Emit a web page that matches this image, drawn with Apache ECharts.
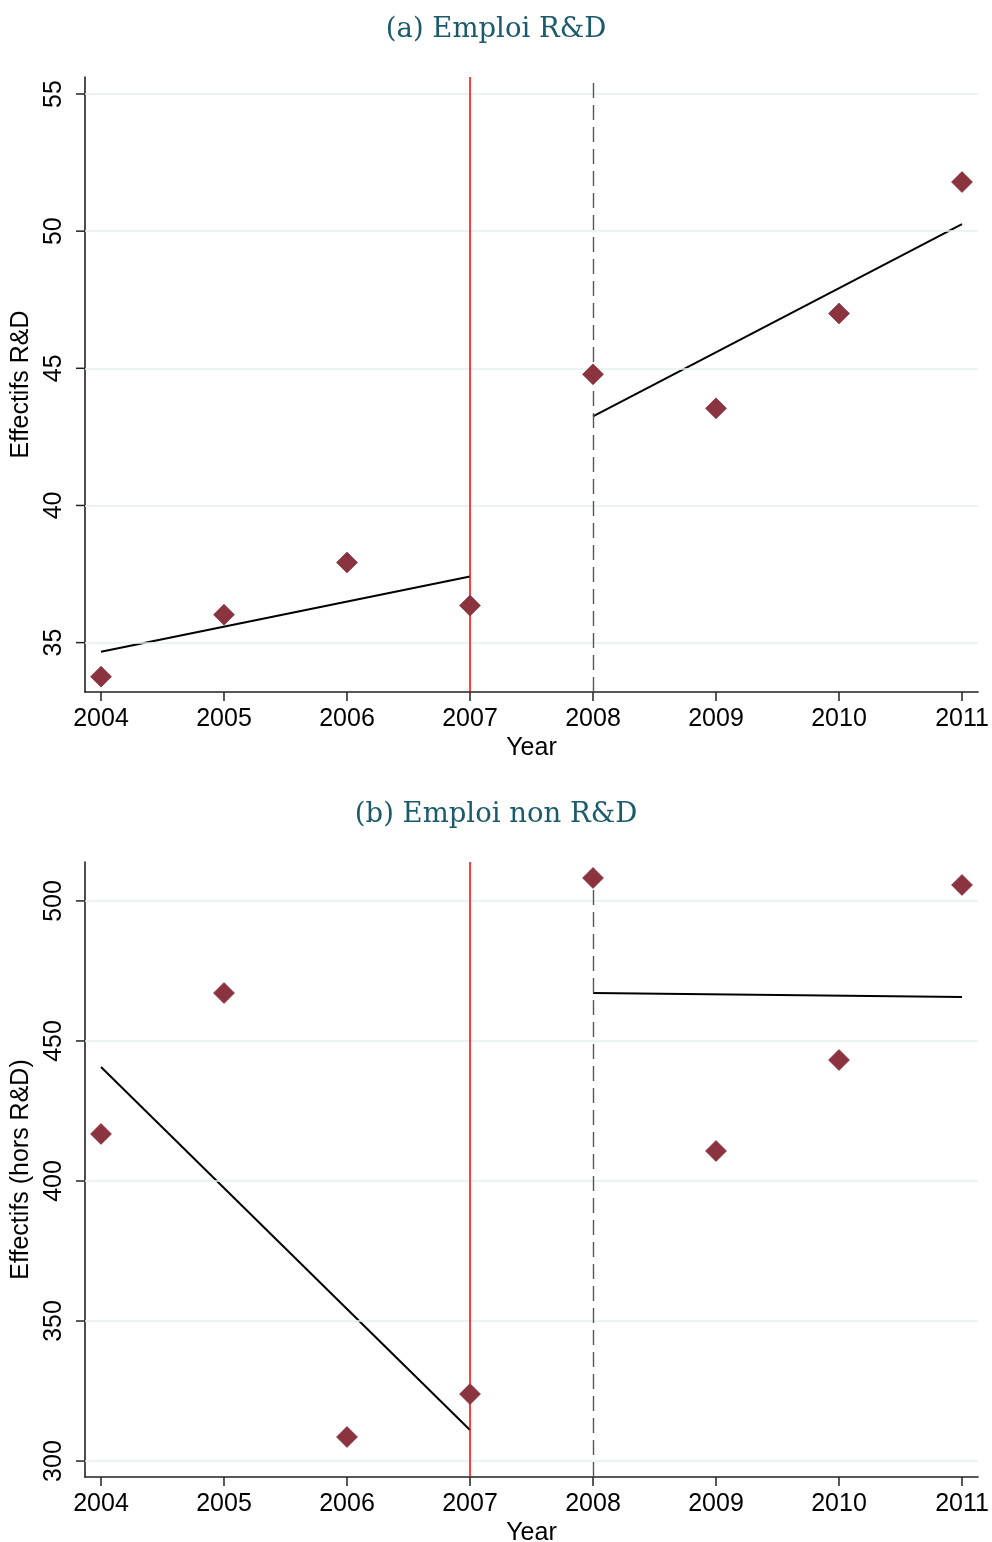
<!DOCTYPE html>
<html>
<head>
<meta charset="utf-8">
<script src="https://cdn.jsdelivr.net/npm/echarts@6/dist/echarts.min.js"></script>
<style>
html,body{margin:0;padding:0;background:#fff;}
#main{width:992px;height:1542px;}
</style>
</head>
<body>
<div id="main"></div>
<script>
// ---- data ----
var years = [2004, 2005, 2006, 2007, 2008, 2009, 2010, 2011];
var xTicks = [2004, 2005, 2006, 2007, 2008, 2009, 2010, 2011];

// (a) Emploi R&D
var rdValues = [33.76, 36.02, 37.92, 36.35, 44.78, 43.54, 47.0, 51.79];
var rdFitPre = [[2004, 34.67], [2007, 37.41]];
var rdFitPost = [[2008, 43.25], [2011, 50.26]];
var rdTicks = [35, 40, 45, 50, 55];

// (b) Emploi non R&D
var nrdValues = [416.8, 467.1, 308.6, 323.9, 508.2, 410.7, 443.2, 505.7];
var nrdFitPre = [[2004, 440.7], [2007, 311.1]];
var nrdFitPost = [[2008, 467.1], [2011, 465.7]];
var nrdTicks = [300, 350, 400, 450, 500];

var titles = ['(a) Emploi R&D', '(b) Emploi non R&D'];
var yNames = ['Effectifs R&D', 'Effectifs (hors R&D)'];
var xName = 'Year';
var reformYear = 2007;
var postYear = 2008;

// ---- layout ----
var GRID_W = 893, GRID_H = 615, TICK_PX = 9;
var X_MIN = 2003.87, X_MAX = 2011.13;
var Y_RANGES = [[33.2, 55.62], [294.3, 513.9]];

var chart = echarts.init(document.getElementById('main'), null, {renderer: 'canvas'});
var sans = 'Liberation Sans, Arial, sans-serif';
var serif = 'DejaVu Serif, serif';
var markerColor = '#8c3340';
var axisColor = '#222';
var FS = 25;

function pts(vals) { return years.map(function (y, i) { return [y, vals[i]]; }); }

function xAxisCfg(gi) {
  return {
    type: 'value', gridIndex: gi, min: X_MIN, max: X_MAX,
    name: xName, nameLocation: 'middle', nameGap: 44,
    nameTextStyle: {fontFamily: sans, fontSize: FS, color: '#000'},
    axisLine: {show: true, lineStyle: {color: axisColor, width: 1.6}},
    axisTick: {show: false},
    axisLabel: {customValues: xTicks, fontFamily: sans, fontSize: FS, color: '#000', margin: 15,
      formatter: function (v) { return String(v); }},
    splitLine: {show: false}
  };
}
function yAxisCfg(gi, ticks, name) {
  return {
    type: 'value', gridIndex: gi, min: Y_RANGES[gi][0], max: Y_RANGES[gi][1],
    name: name, nameLocation: 'middle', nameGap: 40,
    nameTextStyle: {fontFamily: sans, fontSize: FS, color: '#000'},
    axisLine: {show: true, lineStyle: {color: axisColor, width: 1.6}},
    axisTick: {show: false},
    axisLabel: {customValues: ticks, rotate: 90, fontFamily: sans, fontSize: FS, color: '#000', margin: 18},
    splitLine: {show: false}
  };
}
function gridLines(ticks) {
  return ticks.map(function (t) {
    return {yAxis: t, lineStyle: {color: '#e6eff2', type: 'solid', width: 1.6}};
  });
}
// tick marks drawn through the axes' own scale (custom series)
function tickSeries(gi, ticks) {
  var ymin = Y_RANGES[gi][0];
  var data = [];
  xTicks.forEach(function (t) { data.push([t, ymin, 0]); });
  ticks.forEach(function (t) { data.push([X_MIN, t, 1]); });
  return {
    type: 'custom', xAxisIndex: gi, yAxisIndex: gi, silent: true, clip: false, z: 6,
    encode: {x: 0, y: 1},
    data: data,
    renderItem: function (params, api) {
      var p = api.coord([api.value(0), api.value(1)]);
      var vertical = api.value(2) === 0;
      return {
        type: 'line',
        shape: vertical ? {x1: p[0], y1: p[1], x2: p[0], y2: p[1] + TICK_PX}
                        : {x1: p[0], y1: p[1], x2: p[0] - TICK_PX, y2: p[1]},
        style: {stroke: axisColor, lineWidth: 1.5}
      };
    }
  };
}
function seriesFor(gi, vals, pre, post, ticks) {
  return [
    {
      type: 'line', xAxisIndex: gi, yAxisIndex: gi, data: [], silent: true, z: 1,
      markLine: {silent: true, symbol: ['none', 'none'], animation: false, label: {show: false}, data: gridLines(ticks)}
    },
    tickSeries(gi, ticks),
    {
      type: 'line', xAxisIndex: gi, yAxisIndex: gi, data: [], silent: true, z: 2,
      markLine: {silent: true, symbol: ['none', 'none'], animation: false, label: {show: false},
        data: [
          {xAxis: reformYear, lineStyle: {color: '#ff0000', type: 'solid', width: 1.5}},
          {xAxis: postYear, lineStyle: {color: '#555555', type: [15, 7], width: 1.4}}
        ]}
    },
    {type: 'line', xAxisIndex: gi, yAxisIndex: gi, data: pre, symbol: 'none', z: 3,
      lineStyle: {color: '#000', width: 2}, animation: false},
    {type: 'line', xAxisIndex: gi, yAxisIndex: gi, data: post, symbol: 'none', z: 3,
      lineStyle: {color: '#000', width: 2}, animation: false},
    {type: 'scatter', xAxisIndex: gi, yAxisIndex: gi, data: pts(vals), symbol: 'diamond',
      symbolSize: [21, 21], z: 5, itemStyle: {color: markerColor, opacity: 1, borderColor: '#7a2a35', borderWidth: 0.6}, animation: false}
  ];
}

var option = {
  backgroundColor: '#fff',
  animation: false,
  title: [
    {text: titles[0], left: 'center', top: 11, textStyle: {fontFamily: serif, fontSize: 27.5, fontWeight: 'normal', color: '#1b5a6c'}},
    {text: titles[1], left: 'center', top: 796, textStyle: {fontFamily: serif, fontSize: 27.5, fontWeight: 'normal', color: '#1b5a6c'}}
  ],
  grid: [
    {left: 85, top: 77, width: GRID_W, height: GRID_H, outerBoundsMode: 'none', containLabel: false},
    {left: 85, top: 862, width: GRID_W, height: GRID_H, outerBoundsMode: 'none', containLabel: false}
  ],
  xAxis: [xAxisCfg(0), xAxisCfg(1)],
  yAxis: [yAxisCfg(0, rdTicks, yNames[0]), yAxisCfg(1, nrdTicks, yNames[1])],
  series: [].concat(
    seriesFor(0, rdValues, rdFitPre, rdFitPost, rdTicks),
    seriesFor(1, nrdValues, nrdFitPre, nrdFitPost, nrdTicks)
  )
};
chart.setOption(option);
</script>
</body>
</html>
